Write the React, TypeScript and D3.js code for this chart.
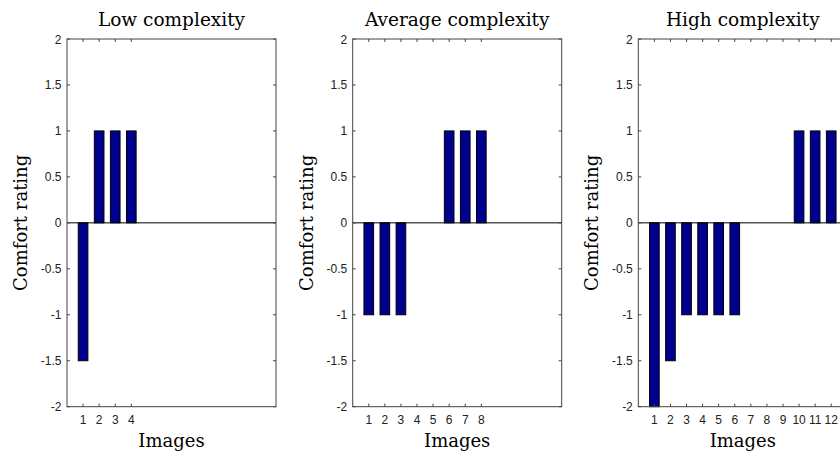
import React from "react";
import * as d3 from "d3";

const titles = ["Low complexity", "Average complexity", "High complexity"];
const lowValues = [-1.5, 1, 1, 1];
const averageValues = [-1, -1, -1, 0, 0, 1, 1, 1];
const highValues = [-2, -1.5, -1, -1, -1, -1, 0, 0, 0, 1, 1, 1];
const yTicks = [-2, -1.5, -1, -0.5, 0, 0.5, 1, 1.5, 2];
const xDomain = [0, 13];
const yDomain = [-2, 2];

const series = [lowValues, averageValues, highValues];

const W = 840;
const H = 452;
const panelLefts = [67, 352.7, 638.3];
const panelWidth = 209;
const top = 39;
const bottom = 406.7;
const axisColor = "#444";
const barFill = "#00008F";
const serif = "'DejaVu Serif', serif";
const sans = "'Liberation Sans', Arial, sans-serif";

function Panel({ left, title, values }: { left: number; title: string; values: number[] }) {
  const x = d3.scaleLinear().domain(xDomain).range([left, left + panelWidth]);
  const y = d3.scaleLinear().domain(yDomain).range([bottom, top]);
  const bw = x(0.6) - x(0);
  const xTicks = values.map((_, i) => i + 1);
  const tl = 3;
  return (
    <g>
      <text x={left + panelWidth / 2} y={26} textAnchor="middle" fontFamily={serif} fontSize={18.5} fill="#000">
        {title}
      </text>
      {values.map((v, i) => {
        const y0 = y(0);
        const yv = y(v);
        return (
          <rect
            key={i}
            x={x(i + 1) - bw / 2}
            y={Math.min(y0, yv)}
            width={bw}
            height={Math.abs(yv - y0)}
            fill={barFill}
            stroke="#000"
            strokeWidth={1}
          />
        );
      })}
      <line x1={x(xDomain[0])} x2={x(xDomain[1])} y1={y(0)} y2={y(0)} stroke="#000" strokeWidth={1} />
      <rect x={left} y={top} width={panelWidth} height={bottom - top} fill="none" stroke={axisColor} strokeWidth={1} />
      {yTicks.map((t) => (
        <g key={t}>
          <line x1={left} x2={left + tl} y1={y(t)} y2={y(t)} stroke={axisColor} />
          <line x1={left + panelWidth} x2={left + panelWidth - tl} y1={y(t)} y2={y(t)} stroke={axisColor} />
          <text x={left - 5.5} y={y(t) + 4.5} textAnchor="end" fontFamily={sans} fontSize={12} fill="#222">
            {String(t)}
          </text>
        </g>
      ))}
      {xTicks.map((t) => (
        <g key={t}>
          <line x1={x(t)} x2={x(t)} y1={bottom} y2={bottom - tl} stroke={axisColor} />
          <line x1={x(t)} x2={x(t)} y1={top} y2={top + tl} stroke={axisColor} />
          <text x={x(t)} y={424} textAnchor="middle" fontFamily={sans} fontSize={12} fill="#222">
            {String(t)}
          </text>
        </g>
      ))}
      <text x={left + panelWidth / 2} y={447} textAnchor="middle" fontFamily={serif} fontSize={18} fill="#000">
        Images
      </text>
      <text
        transform={`translate(${left - 40},${(top + bottom) / 2}) rotate(-90)`}
        textAnchor="middle"
        fontFamily={serif}
        fontSize={18}
        fill="#000"
      >
        Comfort rating
      </text>
    </g>
  );
}

export default function App() {
  return (
    <svg width={W} height={H} style={{ position: "absolute", left: 0, top: 0, background: "#fff" }}>
      <rect width={W} height={H} fill="#fff" />
      {series.map((vals, i) => (
        <Panel key={i} left={panelLefts[i]} title={titles[i]} values={vals} />
      ))}
    </svg>
  );
}
